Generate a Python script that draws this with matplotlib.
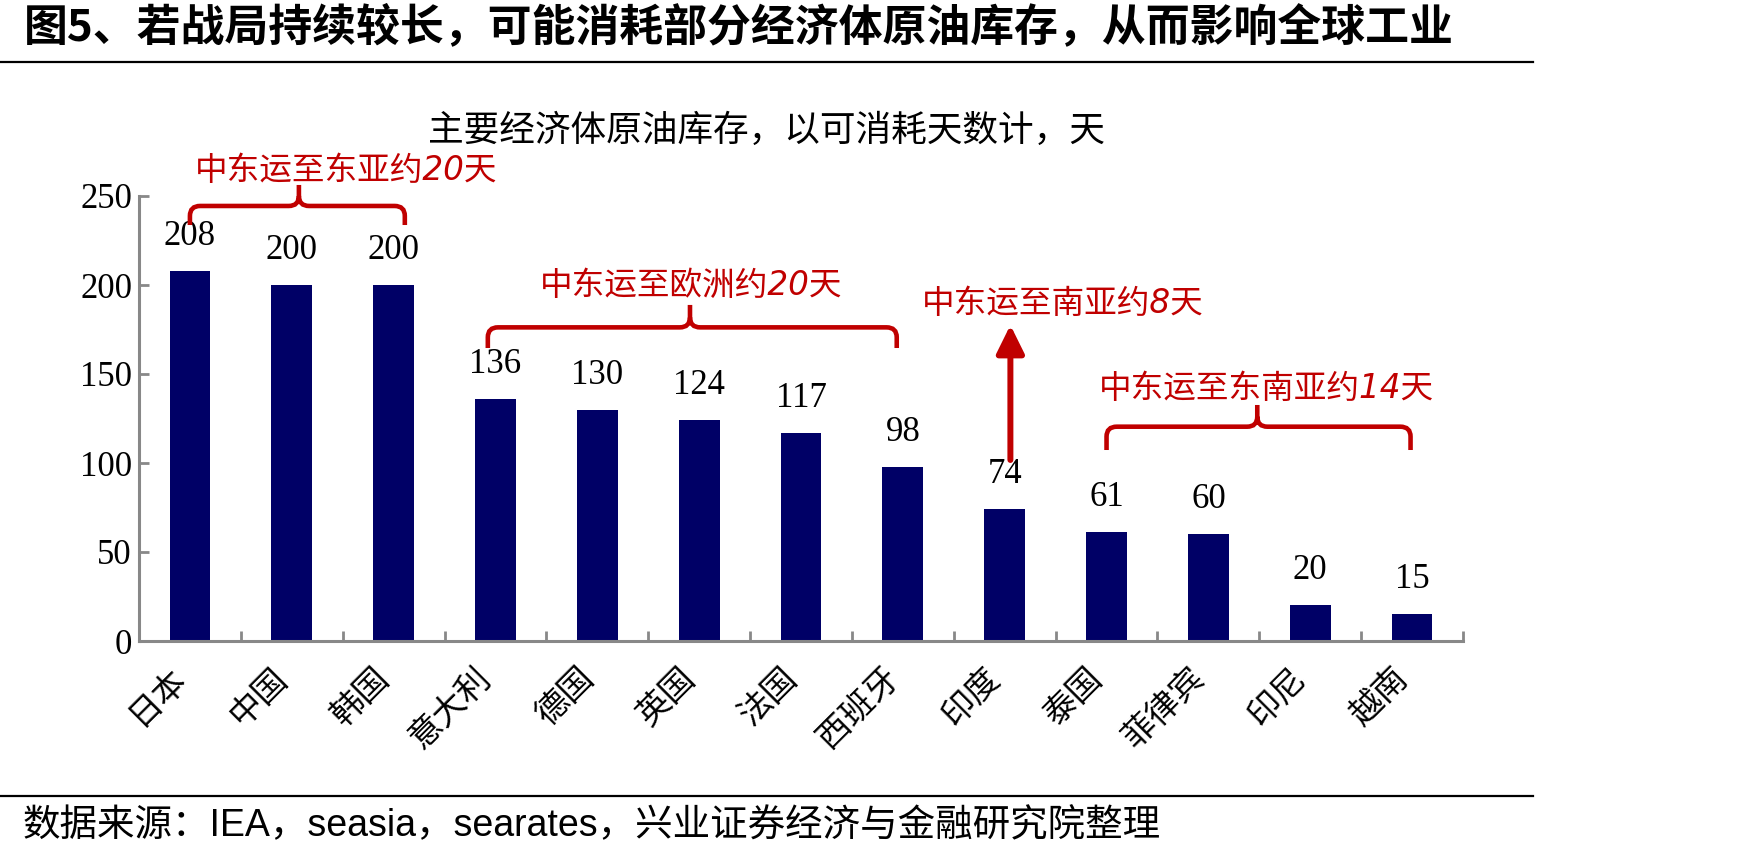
import numpy as np
import matplotlib
matplotlib.use('Agg')
import matplotlib.pyplot as plt
from matplotlib.path import Path
from matplotlib.patches import PathPatch
from matplotlib.lines import Line2D
import matplotlib.transforms as mtransforms

# ---------------- data ----------------
categories = ['日本', '中国', '韩国', '意大利', '德国', '英国', '法国',
              '西班牙', '印度', '泰国', '菲律宾', '印尼', '越南']
days = [208, 200, 200, 136, 130, 124, 117, 98, 74, 61, 60, 20, 15]
yticks = [0, 50, 100, 150, 200, 250]

title = '图5、若战局持续较长，可能消耗部分经济体原油库存，从而影响全球工业'
subtitle = '主要经济体原油库存，以可消耗天数计，天'
source = '数据来源：IEA，seasia，searates，兴业证券经济与金融研究院整理'

brace_labels = ['中东运至东亚约20天', '中东运至欧洲约20天', '中东运至东南亚约14天']
brace_label_pos = [(1.53, 264.6), (4.92, 200.0), (10.57, 141.6)]
brace_spans = [(0.0, 2.11), (2.925, 6.94), (9.0, 11.985)]
brace_mid = [1.07, 4.91, 10.48]
brace_level = [244.4, 176.2, 120.4]
brace_end = [233.7, 164.6, 107.3]
brace_peak = [256.2, 188.8, 132.6]

arrow_label = '中东运至南亚约8天'
arrow_label_pos = (8.567, 189.9)
arrow_x = 8.056
arrow_from, arrow_to = 101.7, 177.5

# ---------------- style ----------------
RED = '#C00000'
NAVY = '#000066'
GRAY = '#888888'
CJK = ['Noto Sans CJK SC', 'DejaVu Sans']
SERIF = ['Liberation Serif', 'DejaVu Serif']
ANN = ['DejaVu Sans', 'Noto Sans CJK SC']

plt.rcParams['font.family'] = SERIF

W, H = 1748, 857
fig = plt.figure(figsize=(W / 100, H / 100), dpi=100)
ax = fig.add_axes([139 / W, 1 - 641 / H, (1463 - 139) / W, (641 - 196) / H])

x = np.arange(len(categories))
ax.bar(x, days, width=0.4, color=NAVY, zorder=2)
ax.set_xlim(-0.5, len(categories) - 0.5)
ax.set_ylim(0, 250)

for s in ['top', 'right']:
    ax.spines[s].set_visible(False)
for s in ['left', 'bottom']:
    ax.spines[s].set_color(GRAY)
    ax.spines[s].set_linewidth(2.2)

ax.set_yticks(yticks)
ax.set_yticklabels([str(v) for v in yticks], fontsize=25, family=SERIF)
ax.tick_params(axis='y', direction='in', length=7.5, width=2, color=GRAY, pad=5)

ax.set_xticks(x)
ax.set_xticklabels(categories, fontsize=24, family=CJK, rotation=45,
                   ha='right', va='top')
ax.tick_params(axis='x', which='major', length=0, pad=14)
ax.set_xticks(np.arange(-0.5, len(categories), 1), minor=True)
ax.tick_params(axis='x', which='minor', direction='in', length=7.5, width=2, color=GRAY)
shift = mtransforms.ScaledTranslation(3 / 100, 0, fig.dpi_scale_trans)
for lab in ax.get_xticklabels():
    lab.set_transform(lab.get_transform() + shift)

# value labels
for xi, v in zip(x, days):
    ax.annotate(str(v), (xi, v), xytext=(0, 18.7), textcoords='offset points',
                ha='center', va='baseline', fontsize=25, family=SERIF, color='black')

# braces
rx, ry = 0.1, 5.6
for (x0, x1), xm, yh, ye, yp, lab, pos in zip(brace_spans, brace_mid, brace_level,
                                              brace_end, brace_peak, brace_labels,
                                              brace_label_pos):
    verts = [(x0, ye), (x0, yh - ry), (x0, yh), (x0 + rx, yh),
             (xm - rx, yh), (xm, yh), (xm, yh + ry), (xm, yp),
             (xm, yh + ry), (xm, yh), (xm + rx, yh),
             (x1 - rx, yh), (x1, yh), (x1, yh - ry), (x1, ye)]
    codes = [Path.MOVETO, Path.LINETO, Path.CURVE3, Path.CURVE3,
             Path.LINETO, Path.CURVE3, Path.CURVE3, Path.LINETO,
             Path.MOVETO, Path.CURVE3, Path.CURVE3,
             Path.LINETO, Path.CURVE3, Path.CURVE3, Path.LINETO]
    ax.add_patch(PathPatch(Path(verts, codes), facecolor='none', edgecolor=RED,
                           lw=3.3, clip_on=False, zorder=3, capstyle='butt'))
    ax.text(pos[0], pos[1], lab, ha='center', va='center', fontsize=23.5,
            family=ANN, style='italic', color=RED, clip_on=False)

# arrow
ax.annotate('', xy=(arrow_x, arrow_to), xytext=(arrow_x, arrow_from),
            arrowprops=dict(arrowstyle='-|>,head_length=0.85,head_width=0.42',
                            mutation_scale=20, lw=4.3, color=RED,
                            shrinkA=0, shrinkB=0), annotation_clip=False)
ax.text(arrow_label_pos[0], arrow_label_pos[1], arrow_label, ha='center', va='center',
        fontsize=23.5, family=ANN, style='italic', color=RED, clip_on=False)

# title, subtitle, source, rules
fig.text(24 / W, 1 - 27 / H, title, ha='left', va='center', fontsize=31.6,
         fontweight='bold', family=CJK, color='black')
fig.add_artist(Line2D([0, 1533 / W], [1 - 62 / H, 1 - 62 / H], color='black', lw=1.6))
fig.text(766 / W, 1 - 131 / H, subtitle, ha='center', va='center', fontsize=25.7,
         family=CJK, color='black')
fig.add_artist(Line2D([0, 1533 / W], [1 - 796 / H, 1 - 796 / H], color='black', lw=1.6))
fig.text(23 / W, 1 - 826 / H, source, ha='left', va='center', fontsize=27,
         family=['Liberation Sans', 'Noto Sans CJK SC'], color='black')

fig.savefig('out.png', dpi=100)
